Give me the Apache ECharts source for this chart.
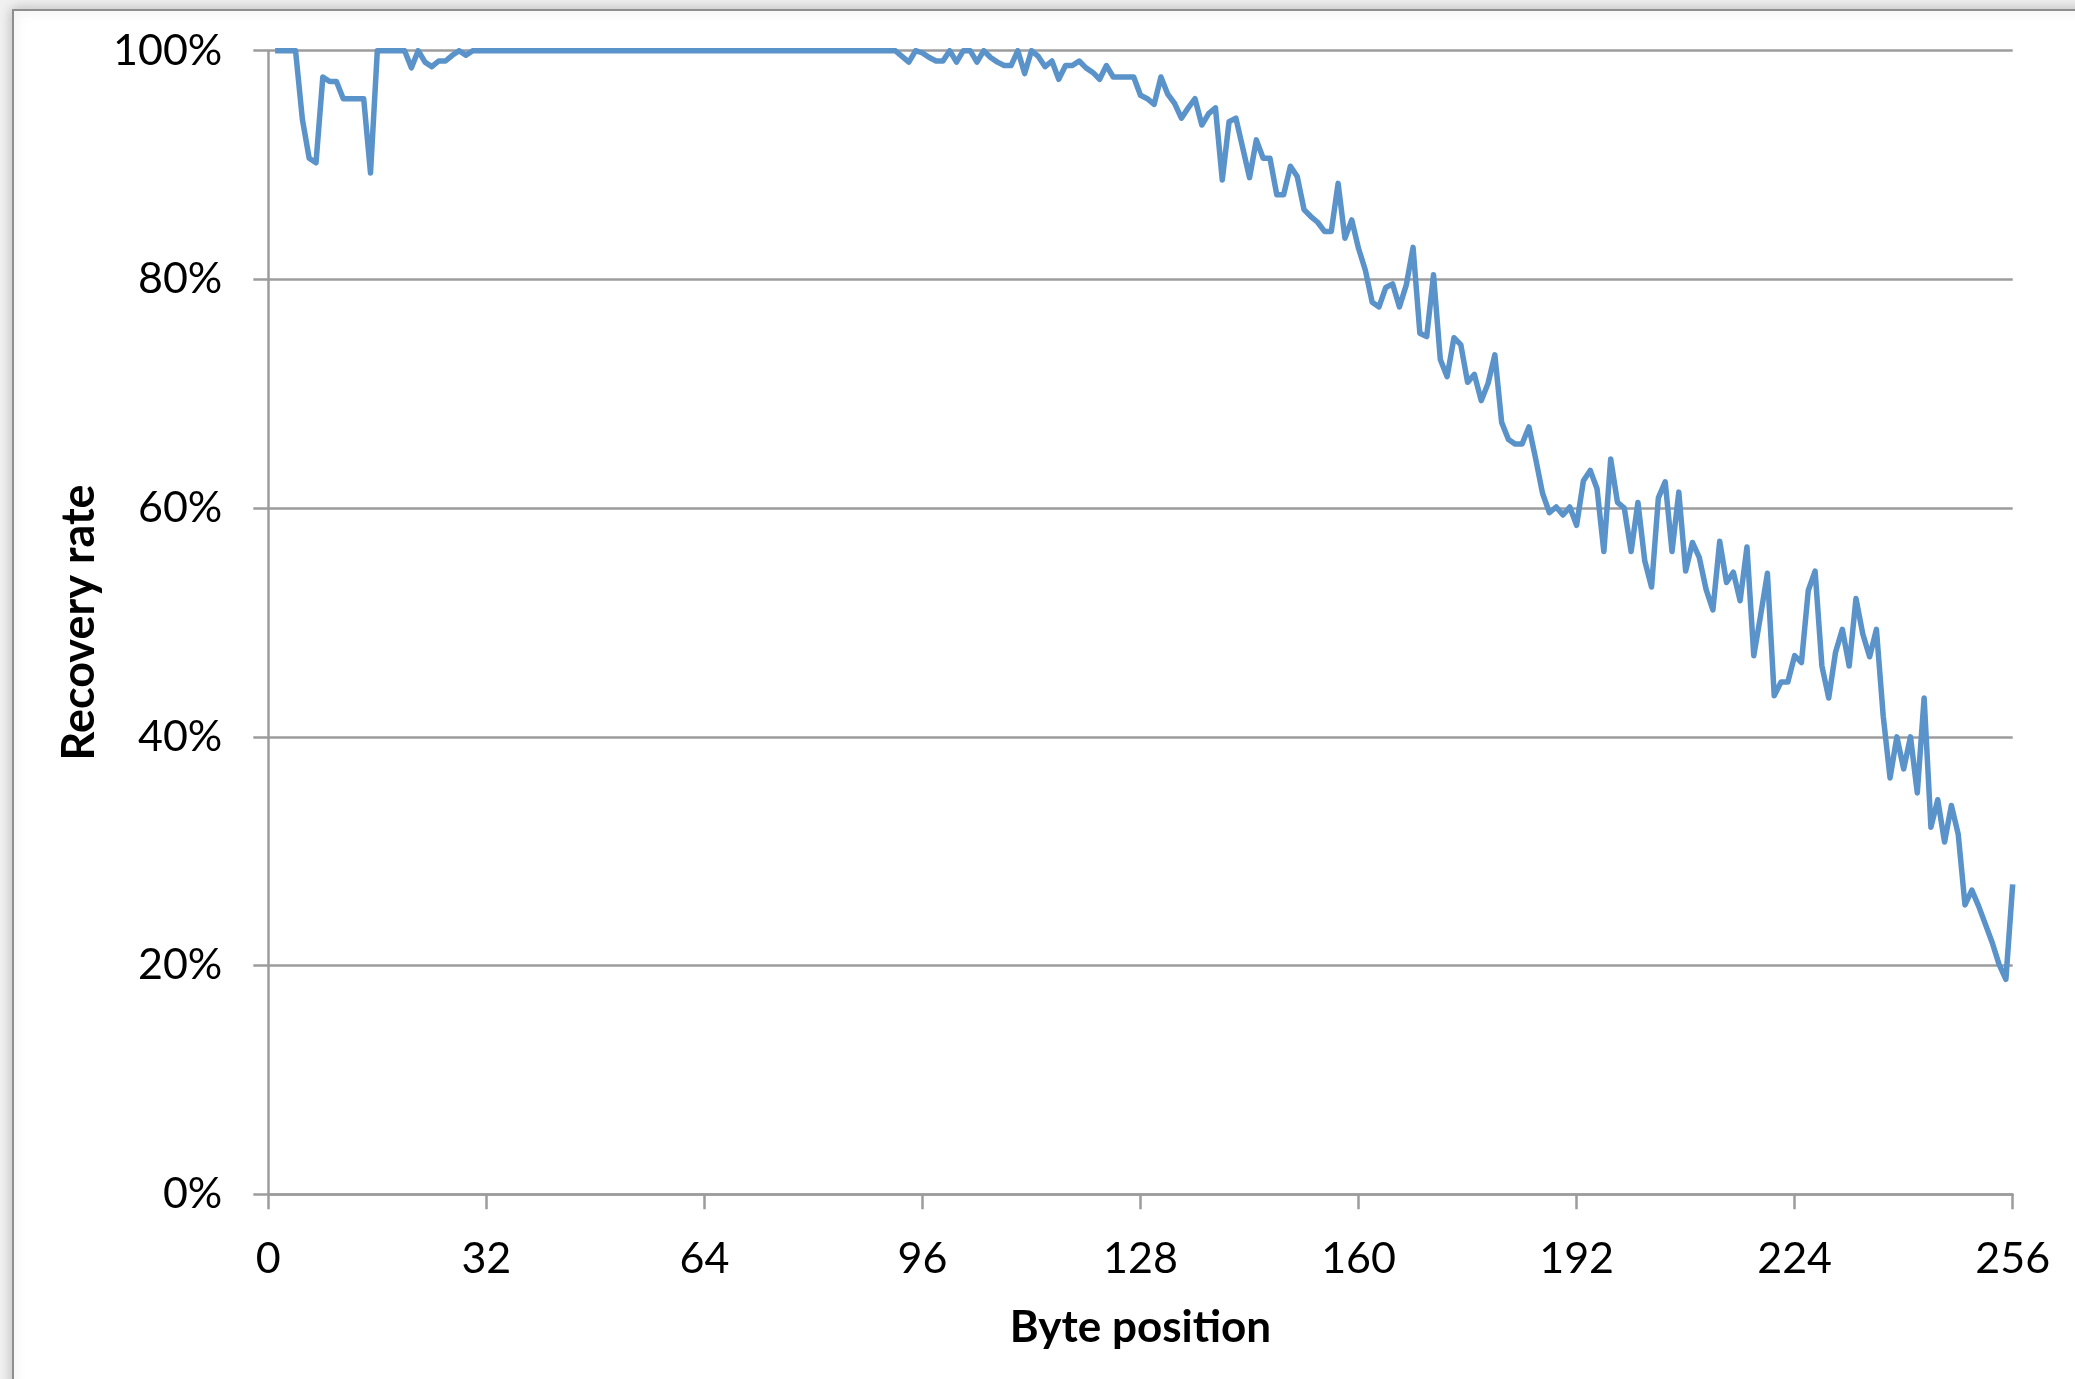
<!DOCTYPE html>
<html>
<head>
<meta charset="utf-8">
<title>Recovery rate by byte position</title>
<script src="https://cdn.jsdelivr.net/npm/echarts@6/dist/echarts.min.js"></script>
<style>
  html, body { margin: 0; padding: 0; background: #f0f0f0; }
  #chart { width: 2075px; height: 1379px; }
</style>
</head>
<body>
<div id="chart"></div>
<script>
// Recovery rate (%) for each byte position 1..256
const recoveryRate = [
  100, 100, 100, 100, 94.0, 90.6, 90.2, 97.7, 97.3, 97.3, 95.8, 95.8, 95.8, 95.8, 89.3, 100,
  100, 100, 100, 100, 98.5, 100, 99.0, 98.6, 99.1, 99.1, 99.6, 100, 99.6, 100, 100, 100,
  100, 100, 100, 100, 100, 100, 100, 100, 100, 100, 100, 100, 100, 100, 100, 100,
  100, 100, 100, 100, 100, 100, 100, 100, 100, 100, 100, 100, 100, 100, 100, 100,
  100, 100, 100, 100, 100, 100, 100, 100, 100, 100, 100, 100, 100, 100, 100, 100,
  100, 100, 100, 100, 100, 100, 100, 100, 100, 100, 100, 100, 99.5, 99.0, 100, 99.8,
  99.4, 99.1, 99.1, 100, 99.0, 100, 100, 99.0, 100, 99.4, 99.0, 98.7, 98.7, 100, 98.0, 100,
  99.5, 98.6, 99.1, 97.5, 98.7, 98.7, 99.1, 98.5, 98.1, 97.5, 98.7, 97.7, 97.7, 97.7, 97.7, 96.1,
  95.8, 95.3, 97.7, 96.2, 95.4, 94.1, 95.0, 95.8, 93.5, 94.5, 95.0, 88.7, 93.8, 94.1, 91.5, 88.9,
  92.2, 90.6, 90.6, 87.4, 87.4, 89.9, 89.0, 86.1, 85.5, 85.0, 84.2, 84.2, 88.4, 83.6, 85.2, 82.7,
  80.8, 78.0, 77.6, 79.3, 79.6, 77.6, 79.5, 82.8, 75.3, 75.0, 80.4, 73.0, 71.5, 74.9, 74.3, 71.0,
  71.7, 69.4, 70.9, 73.4, 67.5, 66.0, 65.6, 65.6, 67.1, 64.3, 61.3, 59.6, 60.1, 59.4, 60.1, 58.5,
  62.4, 63.3, 61.7, 56.2, 64.3, 60.5, 60.0, 56.2, 60.5, 55.4, 53.1, 60.9, 62.3, 56.2, 61.4, 54.5,
  57.0, 55.7, 52.9, 51.1, 57.1, 53.5, 54.4, 51.9, 56.6, 47.1, 50.6, 54.3, 43.6, 44.8, 44.8, 47.1,
  46.5, 52.8, 54.5, 46.2, 43.4, 47.4, 49.4, 46.2, 52.1, 49.0, 47.0, 49.4, 41.8, 36.4, 40.0, 37.2,
  40.0, 35.1, 43.4, 32.1, 34.5, 30.8, 34.0, 31.5, 25.3, 26.6, 25.2, 23.6, 22.0, 20.1, 18.8, 27.1
];

// Axis tick values
const xTicks = [0, 32, 64, 96, 128, 160, 192, 224, 256];
const yTicks = [0, 20, 40, 60, 80, 100];

const xTitle = 'Byte position';
const yTitle = 'Recovery rate';

// Points: byte positions are 1-based
const points = recoveryRate.map((v, i) => [i + 1, v]);

const FONT = 'Lato, "Open Sans", sans-serif';
const GRAY = '#9c9c9c';

const chart = echarts.init(document.getElementById('chart'), null, { renderer: 'canvas' });

chart.setOption({
  backgroundColor: '#f0f0f0',
  animation: false,
  graphic: {
    elements: [{
      type: 'rect',
      z: -10,
      silent: true,
      shape: { x: 13, y: 10, width: 2200, height: 1500 },
      style: {
        fill: '#ffffff',
        stroke: '#8e8e8e',
        lineWidth: 2,
        shadowBlur: 12,
        shadowColor: 'rgba(0,0,0,0.22)'
      }
    }]
  },
  grid: { left: 268.3, right: 62.3, top: 50.7, bottom: 184.7, containLabel: false },
  xAxis: {
    type: 'value',
    min: xTicks[0],
    max: xTicks[xTicks.length - 1],
    interval: xTicks[1] - xTicks[0],
    name: xTitle,
    nameLocation: 'middle',
    nameGap: 112,
    nameTextStyle: { fontFamily: FONT, fontWeight: 'bold', fontSize: 44, color: '#000' },
    axisLine: { show: true, lineStyle: { color: GRAY, width: 2.5 } },
    axisTick: { show: true, inside: false, length: 15, lineStyle: { color: GRAY, width: 2.5 } },
    axisLabel: { margin: 43, fontFamily: FONT, fontSize: 43, color: '#000' },
    splitLine: { show: false }
  },
  yAxis: {
    type: 'value',
    min: yTicks[0],
    max: yTicks[yTicks.length - 1],
    interval: yTicks[1] - yTicks[0],
    name: yTitle,
    nameLocation: 'middle',
    nameRotate: 90,
    nameGap: 164,
    nameTextStyle: { fontFamily: FONT, fontWeight: 'bold', fontSize: 45, color: '#000' },
    axisLine: { show: true, lineStyle: { color: GRAY, width: 2.5 } },
    axisTick: { show: true, inside: false, length: 15, lineStyle: { color: GRAY, width: 2.5 } },
    axisLabel: {
      margin: 46, fontFamily: FONT, fontSize: 43, color: '#000',
      padding: [8, 0, 0, 0], formatter: '{value}%'
    },
    splitLine: { show: true, lineStyle: { color: GRAY, width: 2.5 } }
  },
  series: [{
    type: 'line',
    data: points,
    showSymbol: false,
    smooth: false,
    lineStyle: { color: '#5a92ca', width: 5.5, join: 'round' },
    itemStyle: { color: '#5a92ca' },
    z: 3
  }]
});
</script>
</body>
</html>
